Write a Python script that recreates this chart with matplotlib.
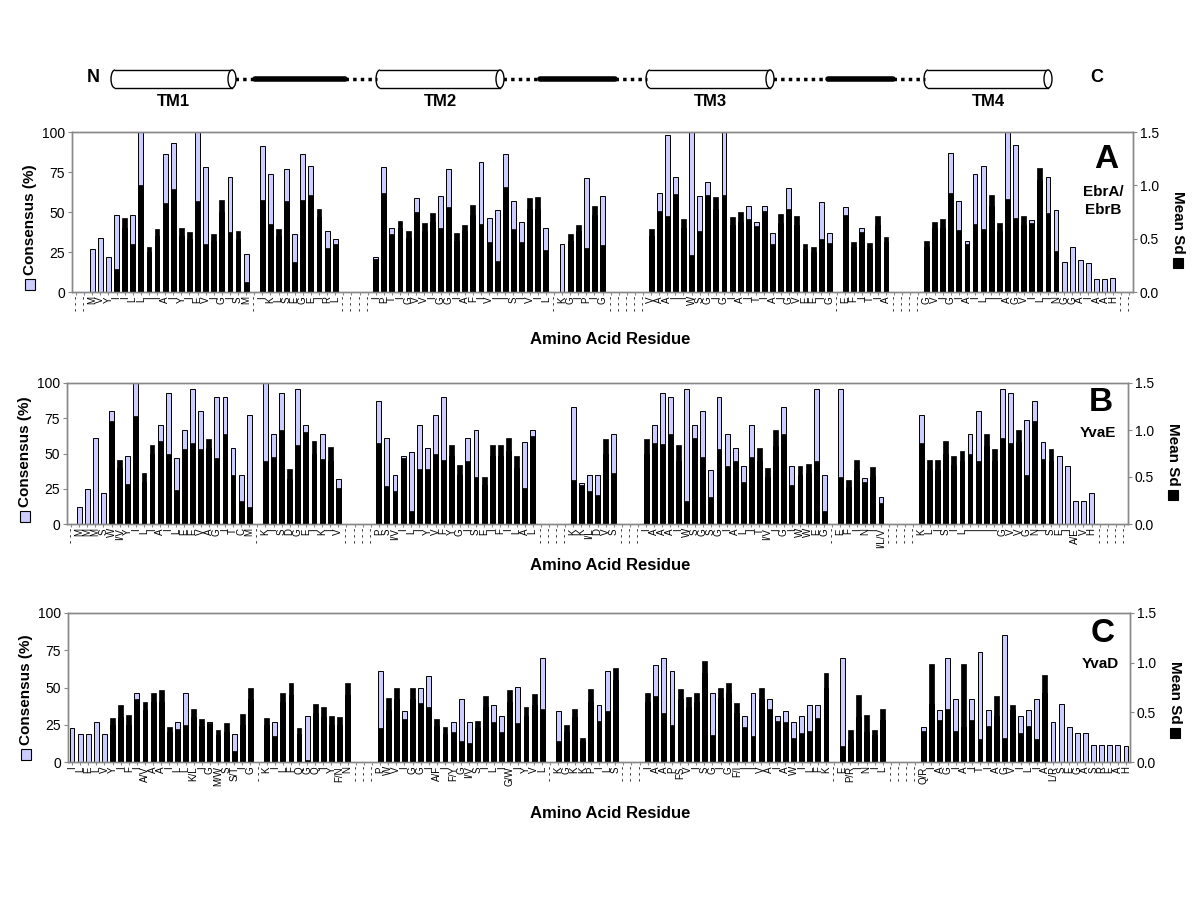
import numpy as np
import matplotlib
matplotlib.use("Agg")
import matplotlib.pyplot as plt
from matplotlib.patches import Rectangle, Ellipse, Arc

plt.rcParams["font.family"] = ["Liberation Sans", "DejaVu Sans"]

# ---- data: residue labels ("|" = gap slot), consensus % and mean Sd ----
A_res = ("| | M V Y I I L L I I A I Y I E V I G I S M | I K L S E G E I R L | | | | "
         "I P T I G V V I G G I A F I V I I S I V I L | K G I P I G | | | | | "
         "V A A I I W S G I G I A I T I A I G V E E I G | E F I T I A | | | | "
         "G V I G I A I L I I A G V I L I N G G A I A A H | |").split()
A_cons = [None, None,
          27, 34, 22, 48, 40, 48, 100, 25, 35, 86, 93, 35, 33, 100, 78, 32, 50, 72, 33, 24,
          None,
          91, 74, 35, 77, 36, 86, 79, 47, 38, 33,
          None, None, None, None,
          22, 78, 40, 40, 34, 59, 38, 44, 60, 77, 32, 38, 48, 81, 46, 51, 86, 57, 44, 52, 52, 40,
          None,
          30, 32, 38, 71, 48, 60,
          None, None, None, None, None,
          35, 62, 98, 72, 40, 100, 60, 69, 52, 100, 42, 44, 54, 44, 54, 37, 43, 65, 42, 27, 25, 56, 37,
          None,
          53, 28, 40, 27, 42, 31,
          None, None, None, None,
          28, 40, 40, 87, 57, 32, 74, 79, 54, 38, 100, 92, 42, 45, 70, 72, 51, 19, 28, 20, 18, 8, 8, 9,
          None, None]
A_sd = [None, None,
        0, 0, 0, 0.22, 0.69, 0.45, 1.00, 0.42, 0.59, 0.83, 0.97, 0.60, 0.56, 0.85, 0.45, 0.54, 0.86, 0.56, 0.57, 0.09,
        None,
        0.86, 0.64, 0.59, 0.85, 0.28, 0.86, 0.91, 0.78, 0.41, 0.45,
        None, None, None, None,
        0.31, 0.93, 0.54, 0.67, 0.57, 0.75, 0.65, 0.74, 0.60, 0.80, 0.55, 0.63, 0.82, 0.64, 0.47, 0.29, 0.98, 0.59, 0.47, 0.88, 0.89, 0.39,
        None,
        0, 0.54, 0.63, 0.41, 0.81, 0.44,
        None, None, None, None, None,
        0.59, 0.76, 0.71, 0.92, 0.68, 0.35, 0.57, 0.91, 0.89, 0.91, 0.70, 0.75, 0.68, 0.62, 0.76, 0.45, 0.73, 0.78, 0.71, 0.45, 0.42, 0.50, 0.46,
        None,
        0.72, 0.47, 0.56, 0.46, 0.71, 0.52,
        None, None, None, None,
        0.48, 0.66, 0.68, 0.93, 0.58, 0.45, 0.64, 0.59, 0.91, 0.65, 0.87, 0.69, 0.71, 0.65, 1.16, 0.74, 0.38, 0, 0, 0, 0, 0, 0, 0,
        None, None]

B_res = ("| M M M S W I/V Y I L I A I L E E V A G I T C M | K I S D G E I K I V | | | | "
         "P S I/V I L I Y V F Y G I S E I F I L A L | | | | K K I/L D V S | | | "
         "I A A A I W S G S G I A L I T I/V I G I W W E G | E F I N I I/L/V | | | | "
         "K L I S I L I I I I G V V G N I S E I A/E V H | | | |").split()
B_cons = [None,
          12, 25, 61, 22, 80, 40, 48, 100, 30, 50, 70, 93, 47, 67, 96, 80, 54, 90, 90, 54, 35, 77,
          None,
          100, 64, 93, 32, 96, 70, 50, 64, 45, 32,
          None, None, None, None,
          87, 61, 35, 48, 51, 70, 54, 77, 90, 48, 35, 61, 67, 28, 48, 48, 52, 40, 58, 67,
          None, None, None, None,
          83, 29, 35, 35, 50, 64,
          None, None, None,
          50, 70, 93, 90, 45, 96, 70, 80, 38, 90, 64, 54, 41, 70, 45, 33, 55, 83, 41, 35, 36, 96, 35,
          None,
          96, 26, 38, 32.5, 34, 19.3,
          None, None, None, None,
          77, 38, 38, 50, 42, 45, 64, 80, 55, 45, 96, 93, 58, 74, 87, 58, 45, 48, 41, 16, 16, 22,
          None, None, None, None]
B_sd = [None,
        0, 0, 0, 0, 1.10, 0.68, 0.43, 1.15, 0.54, 0.84, 0.88, 0.75, 0.36, 0.80, 0.86, 0.80, 0.90, 0.70, 0.96, 0.52, 0.25, 0.18,
        None,
        0.67, 0.71, 1.00, 0.58, 0.84, 0.98, 0.88, 0.69, 0.82, 0.38,
        None, None, None, None,
        0.86, 0.40, 0.35, 0.70, 0.14, 0.59, 0.59, 0.75, 0.68, 0.84, 0.63, 0.67, 0.50, 0.50, 0.84, 0.84, 0.92, 0.72, 0.38, 0.94,
        None, None, None, None,
        0.47, 0.42, 0.35, 0.31, 0.90, 0.54,
        None, None, None,
        0.90, 0.86, 0.85, 0.96, 0.84, 0.25, 0.92, 0.71, 0.29, 0.80, 0.62, 0.67, 0.45, 0.71, 0.81, 0.60, 1.00, 0.96, 0.41, 0.62, 0.64, 0.67, 0.14,
        None,
        0.50, 0.47, 0.68, 0.45, 0.61, 0.22,
        None, None, None, None,
        0.86, 0.68, 0.68, 0.88, 0.72, 0.78, 0.75, 0.67, 0.96, 0.80, 0.92, 0.86, 1.00, 0.52, 1.10, 0.69, 0.80, 0, 0, 0, 0, 0,
        None, None, None, None]

C_res = ("I L E L V Y I F I A/V A A I L L K/L I G M/W S S/T I G | K I L F Q G Q I Y F/N N | | | "
         "P W V I G G I A/F I F/Y G I/V S I L I G/W I Y V L | K G K K P I L S | | | "
         "I A A P FS V I S G I G F/I I I V A I A W I L F K | E P/R I N I L | | | | "
         "Q/R I A G I A I T I A G V I L I A L/R S E G A S R E A H").split()
C_cons = [23, 19, 19, 27, 19, 25, 30, 25, 46, 35, 40, 40, 20, 27, 46, 30, 24, 27, 18, 20, 19, 25, 42,
          None,
          25, 27, 40, 45, 19, 31, 33, 30, 25, 25, 45,
          None, None, None,
          61, 35, 42, 34.5, 42, 50, 57.5, 24, 19, 26.6, 42.3, 26.6, 23, 37, 38.5, 30.6, 40, 50.3, 31, 38, 69.8,
          None,
          34.5, 20, 30, 14, 40, 38.5, 61.3, 55,
          None, None, None,
          40, 65.3, 69.8, 61.3, 42, 37, 40, 60, 46.3, 43, 46, 33, 30.6, 46.3, 42, 42.5, 30.6, 34.5, 26.6, 30.6, 38.5, 38.5, 50,
          None,
          69.8, 15, 30, 20, 18, 28,
          None, None, None, None,
          23.5, 38.8, 34.8, 70, 42.5, 23.5, 42.5, 74, 34.8, 30.7, 85, 34.8, 30.8, 34.8, 42.5, 46.6, 26.7, 38.8, 23.3, 19.7, 19.7, 11.4, 11.4, 11.4, 11.4, 10.8]
C_sd = [0, 0, 0, 0, 0, 0.44, 0.57, 0.47, 0.63, 0.60, 0.69, 0.72, 0.35, 0.33, 0.37, 0.53, 0.43, 0.39, 0.32, 0.39, 0.11, 0.48, 0.75,
        None,
        0.44, 0.26, 0.69, 0.80, 0.34, 0.02, 0.58, 0.55, 0.46, 0.45, 0.80,
        None, None, None,
        0.34, 0.64, 0.75, 0.43, 0.75, 0.59, 0.55, 0.43, 0.35, 0.30, 0.21, 0.19, 0.41, 0.66, 0.40, 0.30, 0.72, 0.39, 0.55, 0.68, 0.53,
        None,
        0.21, 0.37, 0.53, 0.24, 0.73, 0.41, 0.51, 0.95,
        None, None, None,
        0.69, 0.66, 0.49, 0.37, 0.73, 0.65, 0.69, 1.02, 0.27, 0.75, 0.80, 0.59, 0.35, 0.26, 0.74, 0.53, 0.41, 0.40, 0.24, 0.29, 0.31, 0.44, 0.90,
        None,
        0.16, 0.32, 0.67, 0.47, 0.32, 0.53,
        None, None, None, None,
        0.31, 0.99, 0.42, 0.53, 0.31, 0.99, 0.42, 0.23, 0.36, 0.66, 0.24, 0.57, 0.29, 0.36, 0.23, 0.88, 0, 0, 0, 0, 0, 0, 0, 0, 0, 0]

# topology schematic: helix spans (pixel x) and loop pieces
TM_NAMES = ["TM1", "TM2", "TM3", "TM4"]
TM_SPANS = [(115, 232), (380, 500), (650, 770), (928, 1048)]
LOOPS = [(232, 255, 345, 380), (500, 540, 615, 650), (770, 828, 893, 928)]

BLUE = "#ccccff"
GAPLBL = "- - -"
W, H = 1200, 899

fig = plt.figure(figsize=(12, 8.99), dpi=100)

# ---- schematic on a pixel-space overlay ----
top = fig.add_axes([0, 0, 1, 1])
top.set_xlim(0, W); top.set_ylim(H, 0); top.axis("off")
yc, hh, ew = 79, 18, 8
for name, (x0, x1) in zip(TM_NAMES, TM_SPANS):
    top.add_patch(Rectangle((x0, yc - hh/2), x1 - x0, hh, fc="white", ec="none", zorder=2))
    top.plot([x0, x1], [yc - hh/2, yc - hh/2], color="black", lw=1, zorder=3)
    top.plot([x0, x1], [yc + hh/2, yc + hh/2], color="black", lw=1, zorder=3)
    top.add_patch(Arc((x0, yc), ew, hh, theta1=90, theta2=270, color="black", lw=1, zorder=3))
    top.add_patch(Ellipse((x1, yc), ew, hh, fc="white", ec="black", lw=1, zorder=3))
    top.text((x0 + x1)/2, yc + 23, name, ha="center", va="center", fontsize=12, fontweight="bold")
for a, b, c, d in LOOPS:
    top.plot([a + 3, b], [yc, yc], color="black", lw=2.5, ls=(0, (1, 1.2)), zorder=1)
    top.plot([b, c], [yc, yc], color="black", lw=4, solid_capstyle="round", zorder=1)
    top.plot([c, d - 3], [yc, yc], color="black", lw=2.5, ls=(0, (1, 1.2)), zorder=1)
top.text(93, 78, "N", ha="center", va="center", fontsize=13, fontweight="bold")
top.text(1097, 77, "C", ha="center", va="center", fontsize=13, fontweight="bold")

panels = [
    (A_res, A_cons, A_sd, (72, 132, 1133, 292), "A", 28, "EbrA/\nEbrB", 69, 339),
    (B_res, B_cons, B_sd, (67, 383, 1128, 524), "B", 19, "YvaE", 50, 566),
    (C_res, C_cons, C_sd, (68, 613, 1130, 762), "C", 21, "YvaD", 51, 813),
]

for res, cons, sd, (x0, y0, x1, y1), letter, ly, prot, py, xly in panels:
    assert len(res) == len(cons) == len(sd)
    ax = fig.add_axes([x0/W, 1 - y1/H, (x1 - x0)/W, (y1 - y0)/H])
    ax2 = ax.twinx()
    x = np.arange(len(res))
    ic = [i for i, v in enumerate(cons) if v is not None]
    isd = [i for i, v in enumerate(sd) if v]
    ax.bar(x[ic], [cons[i] for i in ic], width=0.6, color=BLUE, edgecolor="black", lw=0.7)
    ax2.bar(x[isd], [sd[i] for i in isd], width=0.6, color="black", edgecolor="black", lw=0.5)
    ax.set_xlim(-0.5, len(res) - 0.5)
    ax.set_ylim(0, 100); ax2.set_ylim(0, 1.5)
    ax.set_yticks([0, 25, 50, 75, 100])
    ax2.set_yticks([0, 0.5, 1.0, 1.5], ["0.0", "0.5", "1.0", "1.5"])
    ax.set_xticks(x, [GAPLBL if r == "|" else r for r in res], rotation=90, fontsize=7)
    ax.tick_params(axis="x", length=2, pad=1, color="#888888")
    ax.tick_params(axis="y", labelsize=10, length=3, color="#888888", pad=2)
    ax2.tick_params(axis="y", labelsize=10, length=3, color="#888888", pad=2)
    for a in (ax, ax2):
        for sp in a.spines.values():
            sp.set_color("#888888"); sp.set_linewidth(1)
    # labels around the panel
    fig.text(610/W, 1 - xly/H, "Amino Acid Residue", ha="center", va="center",
             fontsize=12, fontweight="bold")
    fig.text((x1 - 27)/W, 1 - (y0 + ly)/H, letter, ha="center", va="center",
             fontsize=24, fontweight="bold")
    fig.text((x1 - 30)/W, 1 - (y0 + py)/H, prot, ha="center",
             va="center", fontsize=11, fontweight="bold", linespacing=1.3)
    # left axis title with legend swatch
    fig.patches.append(Rectangle(((x0 - 47)/W, 1 - (y1 - 2)/H), 10/W, 11/H, fc=BLUE, ec="black",
                                 lw=0.8, transform=fig.transFigure, figure=fig))
    fig.text((x0 - 42)/W, 1 - (y1 - 17)/H, "Consensus (%)", rotation=90, ha="center", va="bottom",
             fontsize=11, fontweight="bold")
    fig.patches.append(Rectangle(((x1 + 40)/W, 1 - (y1 - 24)/H), 10/W, 10/H, fc="black", ec="black",
                                 lw=0.8, transform=fig.transFigure, figure=fig))
    fig.text((x1 + 45)/W, 1 - (y1 - 38)/H, "Mean Sd", rotation=270, ha="center", va="bottom",
             fontsize=11, fontweight="bold")

fig.savefig("out.png", dpi=100, facecolor="white")
